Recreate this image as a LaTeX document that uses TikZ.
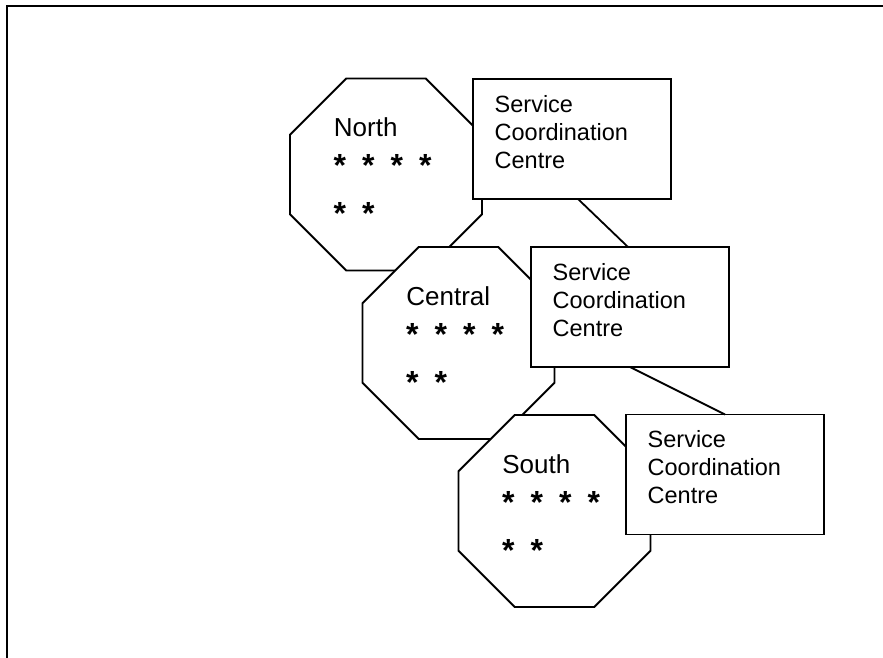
\documentclass[tikz,border=0pt]{standalone}
\usepackage{fontspec}
\setmainfont{Liberation Sans}
\usetikzlibrary{shapes.geometric}
\newcommand\stargap{\hspace{16.1pt}}
\begin{document}
\begin{tikzpicture}[x=1pt,y=-1pt,
  frame/.style={line width=2pt},
  oct/.style={draw, fill=white, regular polygon, regular polygon sides=8,
    minimum size=207.8pt, inner sep=0pt, outer sep=0pt, line width=1.8pt},
  sbox/.style={draw, fill=white, rectangle, minimum width=198pt,
    minimum height=120pt, inner sep=0pt, outer sep=0pt, line width=1.8pt},
  boxtext/.style={font=\fontsize{23.5}{28}\selectfont, align=left,
    inner sep=0pt, anchor=base west},
  octlabel/.style={font=\fontsize{26}{31}\selectfont, inner sep=0pt,
    anchor=base west},
  stars/.style={font=\fontsize{32}{38}\selectfont\bfseries, inner sep=0pt,
    anchor=base west},
  link/.style={line width=1.8pt}]
\useasboundingbox (0,0) rectangle (883,658);
\coordinate (fr) at (883,6);
\coordinate (fc) at (7,6);
\coordinate (fb) at (7,658);
\draw[frame] (fr) -- (fc) -- (fb);

% North
\node[oct] (oN) at (386,174.5) {};
\node[octlabel] (lN) at ([shift={(-52.3,-38)}]oN.center) {North};
\node[stars] (s1N) at ([shift={(-52.7,2)}]oN.center) {*\stargap*\stargap*\stargap*};
\node[stars] (s2N) at ([shift={(-52.7,50)}]oN.center) {*\stargap*};
\node[sbox] (bN) at (572,139) {};
\node[boxtext] (tN) at ([shift={(21.5,89)}]bN.north west) {Service\\Coordination\\Centre};

% Central
\node[oct] (oC) at (458.5,343) {};
\node[octlabel] (lC) at ([shift={(-52.3,-38)}]oC.center) {Central};
\node[stars] (s1C) at ([shift={(-52.7,2)}]oC.center) {*\stargap*\stargap*\stargap*};
\node[stars] (s2C) at ([shift={(-52.7,50)}]oC.center) {*\stargap*};
\node[sbox] (bC) at (630,307) {};
\node[boxtext] (tC) at ([shift={(21.5,89)}]bC.north west) {Service\\Coordination\\Centre};

% South
\node[oct] (oS) at (554.5,511) {};
\node[octlabel] (lS) at ([shift={(-52.3,-38)}]oS.center) {South};
\node[stars] (s1S) at ([shift={(-52.7,2)}]oS.center) {*\stargap*\stargap*\stargap*};
\node[stars] (s2S) at ([shift={(-52.7,50)}]oS.center) {*\stargap*};
\node[sbox] (bS) at (725,474.5) {};
\node[boxtext] (tS) at ([shift={(21.5,89)}]bS.north west) {Service\\Coordination\\Centre};

% connectors
\draw[link] ([xshift=6pt]bN.south) -- ([xshift=-2pt]bC.north);
\draw[link] (bC.south) -- (bS.north);
\end{tikzpicture}
\end{document}
